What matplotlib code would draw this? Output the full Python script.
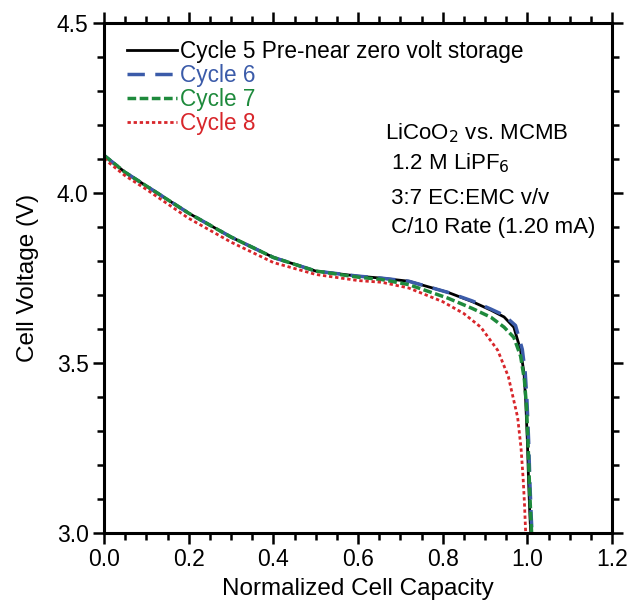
import matplotlib.pyplot as plt
from matplotlib.ticker import MultipleLocator

plt.rcParams['font.family'] = ['Liberation Sans', 'DejaVu Sans']

# Cycle 5 / 6 (nearly identical)
cap5 = [0.0, 0.05, 0.1, 0.2, 0.3, 0.4, 0.5, 0.6, 0.656, 0.72, 0.813, 0.87, 0.914,
        0.945, 0.968, 0.984, 0.992, 0.996, 1.0, 1.003, 1.006, 1.008]
v5 = [4.11, 4.06, 4.02, 3.94, 3.87, 3.81, 3.77, 3.755, 3.749, 3.74, 3.707, 3.68, 3.655,
      3.635, 3.605, 3.537, 3.47, 3.39, 3.27, 3.147, 3.05, 3.0]
cap6 = [0.0, 0.05, 0.1, 0.2, 0.3, 0.4, 0.5, 0.6, 0.656, 0.72, 0.813, 0.87, 0.914,
        0.945, 0.972, 0.988, 0.995, 0.999, 1.003, 1.006, 1.009, 1.011]
v6 = [4.11, 4.06, 4.02, 3.94, 3.87, 3.81, 3.77, 3.755, 3.749, 3.74, 3.707, 3.682, 3.658,
      3.64, 3.61, 3.54, 3.47, 3.39, 3.27, 3.147, 3.05, 3.0]
cap7 = [0.0, 0.05, 0.1, 0.2, 0.3, 0.4, 0.5, 0.6, 0.656, 0.72, 0.813, 0.87, 0.914,
        0.945, 0.968, 0.984, 0.993, 0.998, 1.002, 1.005, 1.008, 1.01]
v7 = [4.11, 4.06, 4.02, 3.94, 3.87, 3.81, 3.77, 3.752, 3.745, 3.73, 3.69, 3.66, 3.634,
      3.605, 3.575, 3.52, 3.45, 3.37, 3.25, 3.14, 3.05, 3.0]
# Cycle 8 fades earlier
cap8 = [0.0, 0.05, 0.1, 0.2, 0.3, 0.4, 0.5, 0.6, 0.656, 0.72, 0.8, 0.85, 0.89,
        0.93, 0.955, 0.977, 0.985, 0.99, 0.993, 0.995, 0.996]
v8 = [4.10, 4.05, 4.01, 3.925, 3.855, 3.795, 3.76, 3.742, 3.737, 3.72, 3.68, 3.645, 3.605,
      3.537, 3.46, 3.34, 3.25, 3.16, 3.09, 3.03, 3.0]

fig = plt.figure(figsize=(6.28, 6.04), dpi=100)
ax = fig.add_axes([0.1656, 0.1175, 0.809, 0.845])

ax.plot(cap5, v5, color='black', lw=2, label='Cycle 5 Pre-near zero volt storage')
ax.plot(cap6, v6, color='#3b5ba9', lw=2.5, dashes=(5, 3), label='Cycle 6')
ax.plot(cap7, v7, color='#1e8a3c', lw=2.5, dashes=(2.5, 1), label='Cycle 7')
ax.plot(cap8, v8, color='#d8262b', lw=2, dashes=(1.2, 1), label='Cycle 8')

ax.set_xlim(0, 1.2)
ax.set_ylim(3.0, 4.5)
ax.xaxis.set_minor_locator(MultipleLocator(0.05))
ax.yaxis.set_minor_locator(MultipleLocator(0.1))
ax.set_xticks([0, 0.2, 0.4, 0.6, 0.8, 1.0, 1.2])
ax.set_xticklabels(['0.0', '0.2', '0.4', '0.6', '0.8', '1.0', '1.2'])
ax.set_yticks([3.0, 3.5, 4.0, 4.5])
ax.set_yticklabels(['3.0', '3.5', '4.0', '4.5'])
ax.tick_params(which='both', direction='out', top=True, right=True, width=1.8,
               labelsize=16.5, pad=3)
ax.tick_params(which='major', length=8)
ax.tick_params(which='minor', length=5)
for s in ax.spines.values():
    s.set_linewidth(2.2)

ax.set_xlabel('Normalized Cell Capacity', fontsize=17.5, labelpad=5)
ax.set_ylabel('Cell Voltage (V)', fontsize=17.5, labelpad=13)

leg = ax.legend(loc='upper left', frameon=False, fontsize=16.3, handlelength=2.2,
                handletextpad=0.15, labelspacing=0.04, borderaxespad=0.0,
                bbox_to_anchor=(0.028, 0.983))
for txt, ln in zip(leg.get_texts(), leg.get_lines()):
    txt.set_color(ln.get_color())

notes = ['LiCoO$_2$ vs. MCMB', ' 1.2 M LiPF$_6$', ' 3:7 EC:EMC v/v', ' C/10 Rate (1.20 mA)']
note_y = [133, 163, 198, 227]
for s, yp in zip(notes, note_y):
    fig.text(385 / 628, 1 - yp / 604, s, fontsize=16, va='center', ha='left')

fig.savefig('out.png', dpi=100)
